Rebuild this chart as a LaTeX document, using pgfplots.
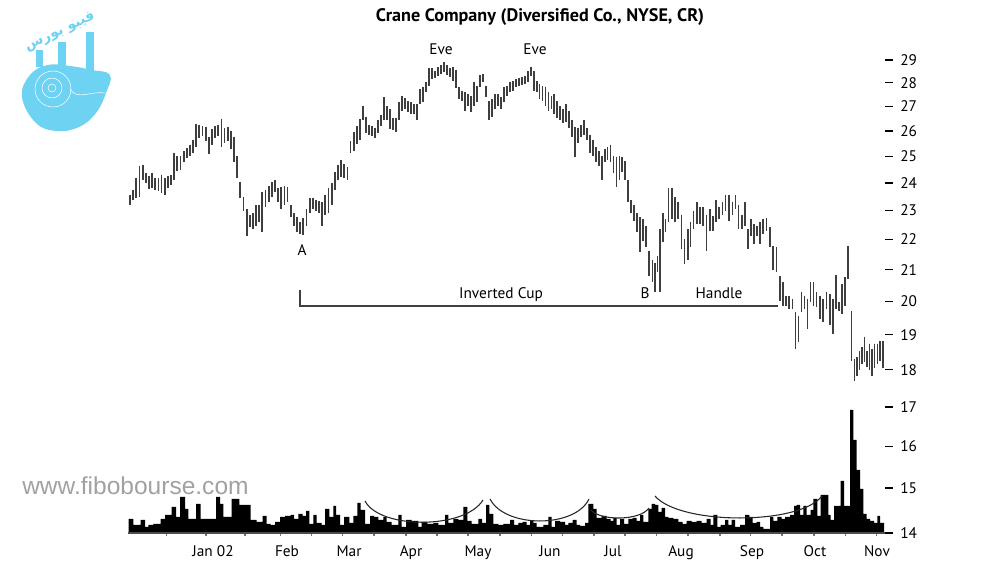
\documentclass[border=0pt]{standalone}
\usepackage{fontspec}
\setmainfont{PT Sans}
\newfontfamily\wmfont{Liberation Sans}
\newfontfamily\arabicfont[Script=Arabic]{DejaVu Sans}
\TeXXeTstate=1
\usepackage{pgfplots}
\usepackage{pgfplotstable}
\pgfplotsset{compat=1.18}
\definecolor{logoblue}{RGB}{110,210,242}
\definecolor{barcol}{RGB}{62,62,62}

\pgfplotstableread{
x h l
130.0 23.57 23.21
133.2 23.75 23.39
136.3 24.20 23.45
139.5 24.65 23.50
142.6 24.69 24.12
145.8 24.38 24.00
148.9 24.27 23.79
152.1 24.38 23.82
155.2 24.20 23.75
158.4 24.19 23.71
161.5 24.31 23.64
164.7 24.19 23.57
167.8 24.25 23.80
171.0 24.31 23.93
174.1 25.15 24.12
177.3 25.00 24.46
180.4 25.00 24.50
183.6 25.20 24.80
186.7 25.31 24.92
189.9 25.46 25.00
193.0 25.65 25.15
196.2 26.29 25.38
199.3 26.25 25.70
202.5 26.21 25.81
205.6 26.17 25.58
208.8 25.77 25.08
211.9 26.08 25.46
215.1 26.20 25.70
218.2 26.25 25.81
221.4 26.50 25.38
224.5 26.13 25.54
227.7 26.17 25.58
230.8 26.00 25.30
234.0 25.77 24.77
237.1 25.00 24.19
240.3 24.04 23.46
243.4 23.50 22.97
246.6 23.04 22.10
249.7 22.83 22.41
252.9 22.90 22.35
256.0 23.18 22.45
259.2 23.21 22.59
262.3 23.68 22.24
265.5 23.75 23.14
268.6 23.90 23.30
271.8 24.04 23.50
274.9 24.12 23.68
278.1 23.82 23.32
281.2 23.86 23.04
284.4 23.90 23.20
287.5 23.86 23.29
290.7 23.18 22.76
293.8 22.93 22.45
297.0 22.76 22.24
300.1 22.60 22.20
303.3 22.72 22.14
306.4 23.04 22.45
309.6 23.46 22.93
312.7 23.46 23.04
315.9 23.39 22.97
319.0 23.35 22.90
322.2 23.29 22.45
325.3 23.57 22.86
328.5 23.82 22.93
331.6 24.00 23.20
334.8 24.42 23.75
337.9 24.69 24.12
341.1 24.88 24.23
344.2 24.70 24.20
347.4 24.58 24.12
350.5 25.58 25.15
353.7 25.96 25.19
356.8 26.20 25.50
360.0 26.50 25.65
363.1 27.00 26.46
366.3 26.58 25.92
369.3 26.25 25.85
372.3 26.21 25.81
375.3 26.13 25.73
378.3 26.46 25.92
381.3 26.63 26.21
384.3 27.39 26.46
387.2 27.00 26.46
390.2 26.88 26.08
393.2 26.54 26.04
396.2 26.54 25.96
399.2 27.17 26.46
402.2 27.43 26.83
405.2 27.35 26.88
408.2 27.22 26.75
411.2 27.17 26.67
414.2 27.09 26.67
417.1 27.09 26.46
420.1 27.74 27.09
423.1 27.83 27.17
426.1 28.04 27.61
429.1 28.63 27.87
432.1 28.63 28.17
435.1 28.50 28.21
438.1 28.67 28.29
441.1 28.79 28.38
444.1 28.92 28.46
447.0 28.79 28.33
450.0 28.63 28.25
453.0 28.67 28.08
456.0 28.54 27.78
459.0 27.83 27.30
462.0 27.65 27.22
465.0 27.61 26.79
468.0 27.52 27.00
471.0 27.43 26.75
473.9 28.04 27.00
476.9 27.87 27.17
479.9 28.33 27.83
482.9 28.38 28.04
485.9 27.87 27.39
488.9 27.22 26.46
491.9 27.30 26.58
494.9 27.52 26.88
497.9 27.52 27.00
500.9 27.39 26.88
503.9 27.83 27.17
507.0 27.87 27.43
510.0 28.04 27.61
512.9 28.08 27.65
515.9 28.17 27.83
518.8 28.21 27.87
521.8 28.25 27.91
524.7 28.29 27.96
527.7 28.50 28.04
530.7 28.71 28.29
533.6 28.50 27.65
536.6 28.08 27.61
539.5 27.96 27.30
542.5 27.87 27.22
545.4 27.83 27.00
548.4 27.61 26.79
551.4 27.43 26.88
554.3 27.52 26.67
557.3 27.22 26.54
560.2 27.00 26.46
563.2 26.88 26.33
566.1 27.09 26.38
569.1 26.79 26.13
572.1 26.46 25.77
575.0 26.17 24.96
578.0 26.13 25.54
580.9 26.25 25.77
583.9 26.46 25.85
586.8 26.13 25.65
589.8 25.85 25.15
592.8 25.65 25.00
595.7 25.35 24.77
598.7 25.19 24.62
601.6 25.00 24.12
604.6 25.27 24.77
607.5 25.38 24.88
610.5 25.46 24.77
613.5 25.00 24.38
616.4 24.96 23.86
619.4 25.00 24.12
622.3 24.96 24.42
625.3 24.81 24.12
628.2 24.12 23.29
631.2 23.39 22.93
634.2 23.21 22.62
637.1 22.93 22.24
640.1 22.76 21.57
643.0 22.69 21.93
646.0 22.45 21.73
649.0 21.60 20.78
652.5 21.33 20.59
655.0 21.23 20.28
657.5 21.43 20.91
660.0 22.34 20.28
663.0 22.93 21.90
665.5 22.69 22.24
668.5 23.82 22.59
672.0 23.82 22.69
675.0 23.50 22.59
678.0 23.32 22.69
681.5 22.86 21.67
684.5 22.00 21.17
688.0 22.34 21.33
690.5 22.59 21.73
693.5 22.97 22.34
697.0 23.32 22.52
700.0 23.14 22.52
703.0 23.11 22.45
706.5 22.86 21.60
710.0 23.04 22.28
713.0 22.79 22.28
716.0 23.39 22.59
719.0 23.14 22.69
722.5 23.29 22.86
725.5 23.54 22.97
729.0 23.57 22.62
732.5 23.32 22.86
735.5 23.54 23.04
738.5 23.21 22.34
742.0 22.86 22.34
745.0 23.29 22.45
748.0 22.34 21.67
751.0 22.69 22.10
754.0 22.52 21.83
757.0 22.45 22.10
760.0 22.59 21.83
763.0 22.69 22.17
766.5 22.72 22.28
770.0 22.41 21.73
773.0 21.77 21.00
776.5 21.73 20.91
780.0 20.78 20.00
783.0 20.59 19.85
786.0 20.16 19.85
789.0 20.16 19.76
792.5 20.06 19.76
795.5 19.68 18.59
798.5 19.56 18.79
801.5 20.28 19.68
804.5 20.16 19.76
807.5 20.06 19.18
810.5 20.59 19.97
813.5 20.59 19.85
816.5 20.28 19.82
820.0 20.16 19.47
823.0 20.06 19.38
826.5 20.28 19.76
830.0 20.22 19.29
833.0 20.06 19.03
836.0 20.84 19.76
839.0 19.97 19.71
842.0 20.53 19.62
845.0 20.75 19.85
848.0 21.77 20.69
851.5 19.71 18.24
854.5 18.29 17.68
857.0 18.35 17.82
859.5 18.53 18.00
862.0 18.65 18.15
864.5 18.94 18.21
867.0 18.53 18.09
869.5 18.74 18.00
872.0 18.59 17.82
874.5 18.74 18.06
877.5 18.74 18.15
880.0 18.82 18.24
883.0 18.82 18.06
}\price

\pgfplotstableread{
x v
128.5 14
133.3 8
140.7 13
145.0 6
148.3 8
153.3 9
160.7 14
165.0 18
171.7 26
176.0 16
180.0 36
185.0 24
188.3 14
196.0 29
200.7 14
216.0 36
220.0 29
223.3 16
231.7 34
239.3 28
250.7 13
256.7 11
262.7 17
266.7 9
270.7 8
275.0 11
280.0 16
285.0 17
290.7 18
294.0 14
298.3 19
302.7 17
306.0 22
309.3 9
313.3 18
316.7 10
321.7 8
325.0 24
329.3 16
333.3 27
336.0 18
340.0 8
344.0 16
349.3 10
353.3 17
357.3 30
360.7 23
365.0 9
370.0 17
374.0 16
378.3 13
383.3 16
386.7 11
391.7 8
398.3 18
401.7 6
406.0 13
411.7 12
418.3 6
421.7 11
427.3 9
433.3 10
438.3 8
445.0 18
448.3 10
453.3 14
458.3 13
463.3 26
467.3 12
471.7 9
478.3 14
482.0 10
486.0 28
489.3 19
493.3 9
498.3 8
503.3 9
510.0 13
514.0 8
518.3 10
522.7 11
526.7 8
530.0 12
533.3 10
536.7 6
543.3 8
548.3 16
551.7 6
555.0 12
560.0 11
565.0 8
568.3 10
572.7 13
576.7 8
580.0 7
585.0 10
588.3 29
593.3 24
596.7 15
601.7 17
606.7 14
610.7 12
613.3 15
616.7 8
620.0 14
624.0 9
628.3 14
632.7 15
636.7 12
640.0 18
643.3 11
648.3 24
651.7 29
655.0 28
658.3 21
661.7 25
665.0 16
668.3 15
673.3 14
678.3 11
682.7 9
686.7 12
691.7 11
696.7 12
701.7 10
706.7 14
710.7 8
713.3 18
717.3 6
720.7 8
725.0 13
728.3 8
731.7 13
735.0 6
740.0 8
745.0 18
749.3 16
752.7 10
756.7 11
760.0 6
763.3 4
770.0 16
773.3 12
777.3 16
781.7 14
785.0 16
790.0 18
794.0 27
796.7 28
800.0 18
803.3 27
806.7 18
810.7 23
813.3 34
817.3 17
820.7 38
828.3 18
830.7 13
834.0 27
840.7 52
844.0 27
850.0 123
853.3 93
856.7 63
860.0 44
863.3 19
866.7 14
870.0 12
874.0 10
877.3 17
880.0 10
884.0 10
}\volume

\begin{document}
\begin{tikzpicture}[x=0.75pt,y=0.75pt]
\path[use as bounding box] (0,0) rectangle (1000,563);

% logo
\fill[logoblue] (36,496) rectangle (43,513);
\fill[logoblue] (58,496) rectangle (66,521);
\fill[logoblue] (86,488) rectangle (94,531);
\fill[logoblue] plot[smooth cycle, tension=0.7] coordinates {(110,488) (106,470) (96,450) (79,436) (57,432) (36,440) (22,466) (30,488) (48,498) (70,497) (92,493)};
\draw[white, line width=0.4pt] (53,474) circle (18);
\draw[white, line width=0.4pt] (52,475) circle (10);
\draw[white, line width=0.4pt] (52,475) circle (4);
\draw[white, line width=0.4pt] (70,474) to[out=-60,in=170] (105,470);
\node[rotate=25, text=logoblue, inner sep=0pt, font=\arabicfont\bfseries\fontsize{10.5}{12}\selectfont] at (60,531) {\beginR فیبو بورس\endR};

% watermark
\node[anchor=west, inner sep=0pt, text=black!37, font=\wmfont\fontsize{18.4}{20}\selectfont] at (22,77) {www.fibobourse.com};

% volume axis
\begin{axis}[at={(96pt,22.5pt)}, anchor=south west, width=567.75pt, height=371.25pt,
  scale only axis, xmin=128, xmax=885, ymin=0, ymax=495, hide axis, clip=false]
\addplot[fill=black, draw=none, const plot] table[x=x,y=v]{\volume} \closedcycle;
\draw[black!85, line width=0.8pt] (axis cs:365,32) .. controls (axis cs:380,3.5) and (axis cs:465,3.5) .. (axis cs:483,33);
\draw[black!85, line width=0.8pt] (axis cs:490,34) .. controls (axis cs:505,4.7) and (axis cs:575,4.7) .. (axis cs:589,34);
\draw[black!85, line width=0.8pt] (axis cs:591,23) .. controls (axis cs:600,12) and (axis cs:640,12) .. (axis cs:649,25);
\draw[black!85, line width=0.8pt] (axis cs:655,37) .. controls (axis cs:680,7.7) and (axis cs:800,7.7) .. (axis cs:822,37);
\end{axis}

% price axis
\begin{axis}[at={(96pt,22.5pt)}, anchor=south west, width=567.75pt, height=371.25pt,
  scale only axis, xmin=128, xmax=885, ymode=log, ymin=14, ymax=30,
  axis x line=bottom, axis y line=right,
  x axis line style={-, draw=black!70, line width=1.2pt},
  y axis line style={draw=none},
  xtick={213,287,349,411,478,550,613,681,752,815,877},
  xticklabels={Jan 02,Feb,Mar,Apr,May,Jun,Jul,Aug,Sep,Oct,Nov},
  minor xtick={166.7,206,245,280.7,311.7,342.7,374,406,437,468,500,531.7,562.7,594,625,656.7,688,720,750.7,782,814,845.7,876.7},
  every major x tick/.append style={draw=none},
  every minor x tick/.append style={draw=black!55, line width=0.8pt},
  minor tick length=2.5pt,
  ytick={14,15,16,17,18,19,20,21,22,23,24,25,26,27,28,29},
  yticklabels={14,15,16,17,18,19,20,21,22,23,24,25,26,27,28,29},
  every major y tick/.append style={draw=black, line width=1pt},
  major tick length=6pt, tick align=outside,
  yticklabel style={xshift=2pt},
  ticklabel style={font=\fontsize{11.5}{13}\selectfont},
  clip=false]
\addplot[draw=none, mark=none, forget plot,
  error bars/.cd, y dir=minus, y explicit, error mark=none,
  error bar style={draw=barcol, line width=1.35pt}]
  table[x=x, y=h, y error minus expr=\thisrow{h}-\thisrow{l}]{\price};
\end{axis}

% annotations
\draw[black!75, line width=1.1pt] (300,273) -- (300,257) -- (778,257);
\begin{scope}[every node/.style={font=\fontsize{11.5}{13}\selectfont}]
\node at (441,514) {Eve};
\node at (535,514) {Eve};
\node at (302,313) {A};
\node[anchor=base] at (501,264) {Inverted Cup};
\node[anchor=base] at (645,264) {B};
\node[anchor=base] at (719,264) {Handle};
\end{scope}
\node[font=\bfseries\fontsize{13.6}{15}\selectfont] at (540,546) {Crane Company (Diversified Co., NYSE, CR)};
\end{tikzpicture}
\end{document}
